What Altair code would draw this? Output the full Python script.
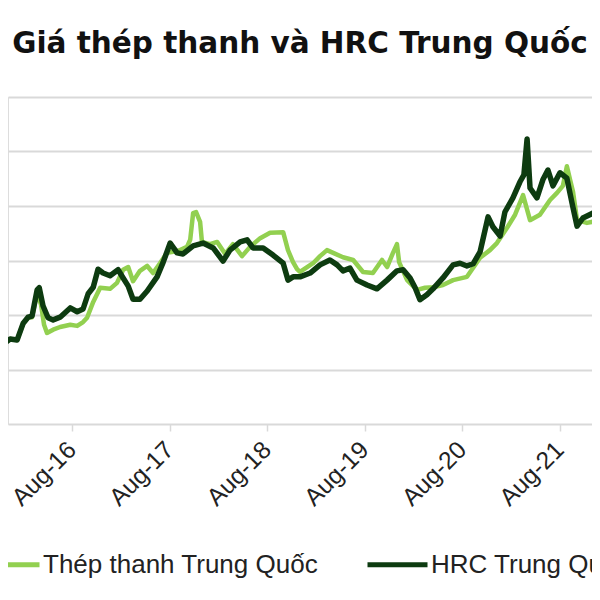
import altair as alt
import pandas as pd

title_text = "Giá thép thanh và HRC Trung Quốc"
series_names = ["Thép thanh Trung Quốc", "HRC Trung Quốc"]
series_colors = ["#92D050", "#0D3B10"]

rebar_dates = [
    "2015-11-06", "2015-12-13", "2016-01-08", "2016-01-31", "2016-02-18", "2016-03-04",
    "2016-03-23", "2016-04-07", "2016-04-18", "2016-04-29", "2016-05-22", "2016-06-17",
    "2016-07-25", "2016-08-20", "2016-09-11", "2016-09-26", "2016-10-19", "2016-11-14",
    "2016-12-21", "2017-01-16", "2017-02-08", "2017-02-27", "2017-03-17", "2017-04-12",
    "2017-05-09", "2017-05-31", "2017-06-26", "2017-07-22", "2017-08-14", "2017-09-09",
    "2017-10-05", "2017-10-17", "2017-10-28", "2017-11-08", "2017-11-23", "2017-11-30",
    "2017-12-30", "2018-01-26", "2018-02-25", "2018-03-26", "2018-04-29", "2018-05-29",
    "2018-07-06", "2018-08-12", "2018-09-30", "2018-10-18", "2018-11-06", "2018-11-21",
    "2018-12-02", "2019-01-20", "2019-02-15", "2019-03-13", "2019-04-05", "2019-05-12",
    "2019-06-19", "2019-07-26", "2019-09-01", "2019-10-05", "2019-10-24", "2019-11-15",
    "2019-11-30", "2019-12-08", "2020-01-07", "2020-02-13", "2020-03-14", "2020-04-13",
    "2020-05-20", "2020-06-27", "2020-08-18", "2020-10-06", "2020-11-12", "2020-12-08",
    "2021-01-15", "2021-02-14", "2021-03-16", "2021-04-11", "2021-05-18", "2021-06-25",
    "2021-07-21", "2021-08-12", "2021-08-27", "2021-09-08", "2021-09-19", "2021-10-04",
    "2021-11-10", "2021-12-29",
]
rebar_values = [
    1430, 1560, 1540, 1850, 1950, 1960,
    2420, 2180, 1820, 1670, 1730, 1780,
    1820, 1800, 1870, 1950, 2240, 2500,
    2480, 2590, 2830, 2880, 2620, 2810,
    2900, 2770, 2950, 3140, 3160, 3190,
    3250, 3380, 3870, 3890, 3710, 3340,
    3300, 3340, 3120, 3300, 3080, 3250,
    3410, 3510, 3520, 3190, 2970, 2840,
    2790, 2950, 3080, 3190, 3140, 3060,
    3010, 2790, 2770, 3010, 2880, 3140,
    3300, 2970, 2640, 2460, 2500, 2510,
    2550, 2640, 2700, 3050, 3190, 3320,
    3600, 3840, 4200, 3740, 3840, 4110,
    4240, 4370, 4730, 4480, 4260, 3740,
    3690, 3740,
]

hrc_dates = [
    "2015-11-06", "2015-12-13", "2016-01-08", "2016-01-31", "2016-02-18", "2016-03-04",
    "2016-03-23", "2016-03-31", "2016-04-14", "2016-05-03", "2016-05-22", "2016-06-17",
    "2016-07-25", "2016-08-20", "2016-09-11", "2016-09-30", "2016-10-19", "2016-11-06",
    "2016-11-25", "2016-12-21", "2017-01-20", "2017-02-08", "2017-02-27", "2017-03-17",
    "2017-04-12", "2017-05-09", "2017-06-15", "2017-07-08", "2017-08-03", "2017-08-29",
    "2017-09-20", "2017-10-28", "2017-12-04", "2018-01-11", "2018-02-17", "2018-03-15",
    "2018-04-22", "2018-05-18", "2018-06-09", "2018-07-17", "2018-08-23", "2018-09-30",
    "2018-10-18", "2018-11-06", "2018-12-02", "2019-01-09", "2019-02-15", "2019-03-24",
    "2019-04-20", "2019-05-12", "2019-06-07", "2019-07-03", "2019-08-10", "2019-09-16",
    "2019-10-24", "2019-11-30", "2019-12-23", "2020-01-18", "2020-02-06", "2020-02-24",
    "2020-03-21", "2020-04-13", "2020-05-20", "2020-06-27", "2020-07-23", "2020-08-18",
    "2020-09-10", "2020-10-06", "2020-11-05", "2020-11-23", "2020-12-20", "2021-01-07",
    "2021-02-06", "2021-03-04", "2021-03-19", "2021-03-31", "2021-04-11", "2021-05-07",
    "2021-05-29", "2021-06-17", "2021-07-06", "2021-08-01", "2021-08-27", "2021-09-15",
    "2021-10-04", "2021-10-26", "2021-12-03", "2021-12-29",
]
hrc_values = [
    1430, 1560, 1540, 1850, 1960, 1980,
    2460, 2500, 2170, 1950, 1910, 1960,
    2130, 2060, 2110, 2390, 2510, 2840,
    2770, 2720, 2830, 2680, 2530, 2290,
    2290, 2440, 2700, 2970, 3320, 3140,
    3120, 3270, 3320, 3230, 2990, 3190,
    3340, 3380, 3230, 3230, 3100, 2950,
    2640, 2700, 2700, 2770, 2920, 3010,
    2920, 2810, 2860, 2640, 2550, 2480,
    2640, 2810, 2830, 2680, 2500, 2280,
    2370, 2480, 2680, 2920, 2950, 2900,
    2940, 3160, 3800, 3620, 3450, 3890,
    4150, 4440, 4570, 5230, 4330, 4150,
    4480, 4660, 4370, 4610, 4510, 4060,
    3630, 3780, 3870, 3980,
]

tick_years = [2016, 2017, 2018, 2019, 2020, 2021]
grid_values = [1000, 2000, 3000, 4000, 5000, 6000]

df = pd.concat([
    pd.DataFrame({"date": rebar_dates, "value": rebar_values, "series": series_names[0]}),
    pd.DataFrame({"date": hrc_dates, "value": hrc_values, "series": series_names[1]}),
])

x_enc = alt.X(
    "date:T",
    title=None,
    scale=alt.Scale(
        type="utc",
        domain=[alt.DateTime(year=2015, month=12, date=5, utc=True),
                alt.DateTime(year=2021, month=11, date=29, utc=True)],
    ),
    axis=alt.Axis(
        values=[alt.DateTime(year=yv, month=8, date=1, utc=True) for yv in tick_years],
        format="%b-%y",
        labelAngle=-45,
        labelAlign="right",
        labelBaseline="middle",
        labelPadding=15,
        labelFont="Liberation Sans",
        labelFontSize=24.5,
        labelColor="#222222",
        labelOverlap=False,
        grid=False,
        domainColor="#d9d9d9",
        domainWidth=2,
        tickColor="#d9d9d9",
        tickSize=7,
        tickWidth=1.5,
    ),
)
y_enc = alt.Y(
    "value:Q",
    title=None,
    scale=alt.Scale(domain=[0, 6000], nice=False),
    axis=alt.Axis(values=grid_values, labels=False, ticks=False, domain=False,
                  grid=True, gridColor="#d9d9d9", gridWidth=2),
)
color_enc = alt.Color(
    "series:N",
    scale=alt.Scale(domain=series_names, range=series_colors),
    legend=alt.Legend(
        orient="none", legendX=-31, legendY=435, direction="horizontal", title=None,
        symbolType="stroke", symbolSize=3600, symbolStrokeWidth=5,
        labelFont="Liberation Sans", labelFontSize=26, labelColor="#222222",
        labelOffset=1, columnPadding=38, labelLimit=0,
    ),
)

base = alt.Chart(df)
rebar_line = base.transform_filter(alt.datum.series == series_names[0]).mark_line(
    strokeWidth=4.5, clip=True, strokeJoin="round"
).encode(x=x_enc, y=y_enc, color=color_enc)
hrc_line = base.transform_filter(alt.datum.series == series_names[1]).mark_line(
    strokeWidth=5.5, clip=True, strokeJoin="round"
).encode(x=x_enc, y=y_enc, color=color_enc)

chart = alt.layer(rebar_line, hrc_line).properties(
    width=584,
    height=327,
    title=alt.TitleParams(title_text, font="DejaVu Sans", fontSize=29.5, fontWeight="bold",
                          color="#111111", anchor="middle", offset=38),
    autosize=alt.AutoSizeParams(type="none"),
    padding={"left": 0, "top": 89, "right": 0, "bottom": 160},
).configure_view(stroke=None).configure(background="white")

chart.save("out.html", embed_options={"renderer": "svg", "actions": False})
